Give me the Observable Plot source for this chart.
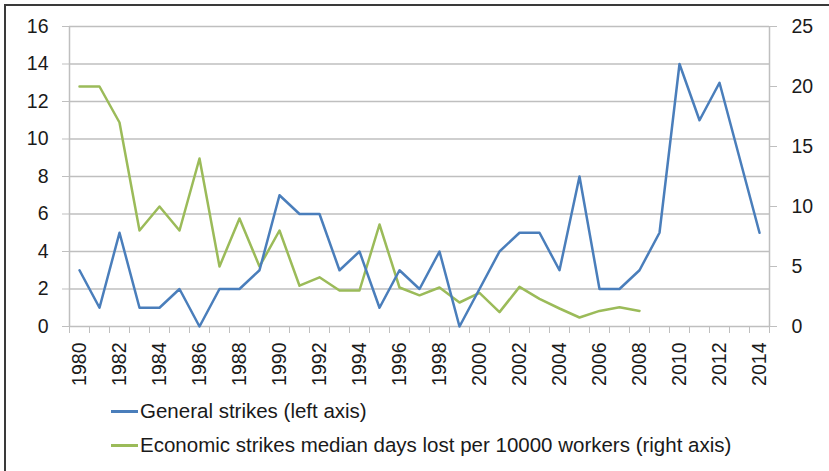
<!DOCTYPE html>
<html>
<head>
<meta charset="utf-8">
<script src="https://cdn.jsdelivr.net/npm/d3@7"></script>
<script src="https://cdn.jsdelivr.net/npm/@observablehq/plot@0.6"></script>
<style>
  html, body { margin: 0; padding: 0; background: #fff; }
  #wrap { position: relative; width: 829px; height: 471px; overflow: hidden; background: #fff;
          font-family: "Liberation Sans", Arial, sans-serif; }
  #frame { position: absolute; left: 4px; top: 4px; width: 840px; height: 480px;
           border-left: 2px solid #3a3a3a; border-top: 2px solid #3a3a3a; }
  #chart { position: absolute; left: 0; top: 0; }
  .leg { position: absolute; left: 111px; display: flex; align-items: center; font-size: 20.5px; color: #1a1a1a; white-space: nowrap; }
  .leg .sw { width: 27px; height: 3px; margin-right: 2px; }
</style>
</head>
<body>
<div id="wrap">
  <div id="chart"></div>
  <div id="frame"></div>
  <div class="leg" id="leg1" style="top:399px"><span class="sw" style="background:#4a7ebb"></span><span></span></div>
  <div class="leg" id="leg2" style="top:433px"><span class="sw" style="background:#9bbb59"></span><span></span></div>
</div>
<script>
const years = d3.range(1980, 2015);
const generalStrikes = [3,1,5,1,1,2,0,2,2,3,7,6,6,3,4,1,3,2,4,0,2,4,5,5,3,8,2,2,3,5,14,11,13,9,5];
const econYears = d3.range(1980, 2009);
const econDaysLost = [20,20,17,8,10,8,14,5,9,5,8,3.4,4.1,3.0,3.0,8.5,3.25,2.6,3.25,2.0,2.8,1.2,3.3,2.3,1.5,0.75,1.3,1.6,1.3];
const leftTicks = [0,2,4,6,8,10,12,14,16];
const rightTicks = [0,5,10,15,20,25];
const yearLabels = d3.range(1980, 2015, 2);
const seriesNames = ["General strikes (left axis)", "Economic strikes median days lost per 10000 workers (right axis)"];

const LEFT_MAX = 16, RIGHT_MAX = 25;
const toLeft = v => v * LEFT_MAX / RIGHT_MAX;

const general = years.map((y, i) => ({year: y, value: generalStrikes[i]}));
const econ = econYears.map((y, i) => ({year: y, value: toLeft(econDaysLost[i])}));
const boundaries = d3.range(1979.5, 2015, 1);

const grid = "#bfbfbf";
const textCol = "#1a1a1a";

const chart = Plot.plot({
  width: 829,
  height: 390,
  marginLeft: 69,
  marginRight: 60,
  marginTop: 26,
  marginBottom: 64,
  style: {fontFamily: "'Liberation Sans', Arial, sans-serif", fontSize: "19.5px", background: "transparent"},
  x: {type: "linear", domain: [1979.5, 2014.5]},
  y: {domain: [0, LEFT_MAX]},
  marks: [
    Plot.gridY(leftTicks, {stroke: grid, strokeOpacity: 1, strokeWidth: 1.5}),
    Plot.ruleX([1979.5, 2014.5], {stroke: grid, strokeWidth: 1.5}),
    Plot.axisY(leftTicks, {anchor: "left", tickSize: 7, tickPadding: 14, stroke: grid, fill: textCol, label: null, tickFormat: d => String(d)}),
    Plot.axisY(rightTicks.map(toLeft), {anchor: "right", tickSize: 7, tickPadding: 15, stroke: grid, fill: textCol, label: null,
      tickFormat: d => String(Math.round(d * RIGHT_MAX / LEFT_MAX))}),
    Plot.axisX(boundaries, {tickSize: 7, stroke: grid, tickFormat: () => "", label: null}),
    Plot.axisX(yearLabels, {tickSize: 0, tickPadding: 16, tickRotate: -90, fill: textCol, label: null, tickFormat: d => String(d)}),
    Plot.lineY(econ, {x: "year", y: "value", stroke: "#9bbb59", strokeWidth: 2.5}),
    Plot.lineY(general, {x: "year", y: "value", stroke: "#4a7ebb", strokeWidth: 2.5})
  ]
});
document.getElementById("chart").appendChild(chart);
document.querySelector("#leg1 span:last-child").textContent = seriesNames[0];
document.querySelector("#leg2 span:last-child").textContent = seriesNames[1];
</script>
</body>
</html>
